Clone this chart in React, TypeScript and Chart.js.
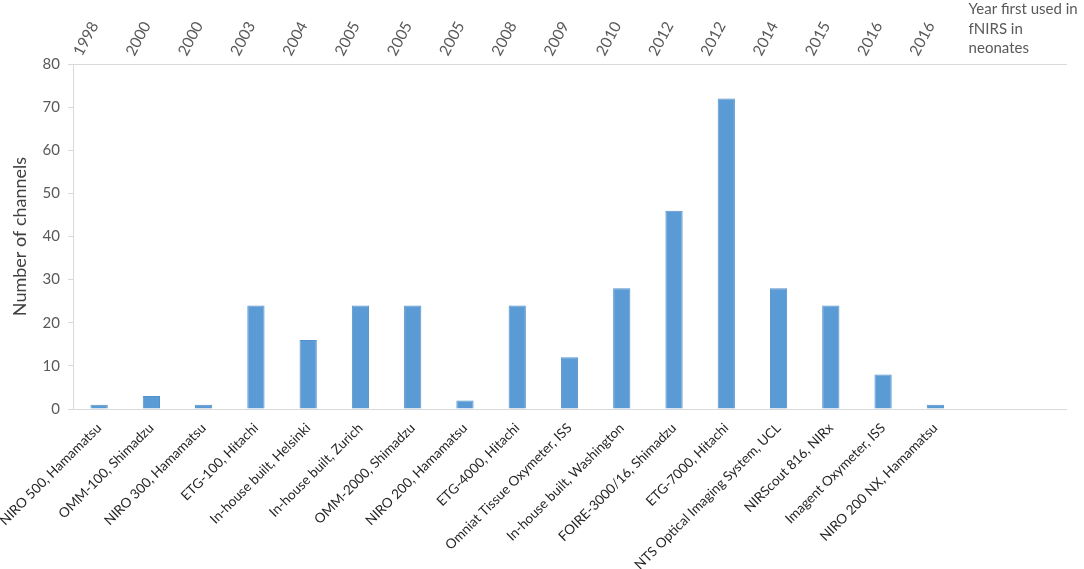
import React, { useEffect, useRef } from 'react';
import { Chart, registerables } from 'chart.js';

Chart.register(...registerables);

const devices = [
  'NIRO 500, Hamamatsu',
  'OMM-100, Shimadzu',
  'NIRO 300, Hamamatsu',
  'ETG-100, Hitachi',
  'In-house built, Helsinki',
  'In-house built, Zurich',
  'OMM-2000, Shimadzu',
  'NIRO 200, Hamamatsu',
  'ETG-4000, Hitachi',
  'Omniat Tissue Oxymeter, ISS',
  'In-house built, Washington',
  'FOIRE-3000/16, Shimadzu',
  'ETG-7000, Hitachi',
  'NTS Optical Imaging System, UCL',
  'NIRScout 816, NIRx',
  'Imagent Oxymeter, ISS',
  'NIRO 200 NX, Hamamatsu',
  '',
  '',
];

const years = [
  '1998', '2000', '2000', '2003', '2004', '2005', '2005', '2005', '2008',
  '2009', '2010', '2012', '2012', '2014', '2015', '2016', '2016', '', '',
];

const channels = [1, 3, 1, 24, 16, 24, 24, 2, 24, 12, 28, 46, 72, 28, 24, 8, 1, null, null];

const yearAxisNote = ['Year first used in', 'fNIRS in', 'neonates'];
const yAxisTitle = 'Number of channels';
const yMin = 0;
const yMax = 80;
const yStep = 10;

const FONT = 'Lato';

const notePlugin = {
  id: 'yearNote',
  afterDraw(chart: any) {
    const s = chart.scales.x2;
    const ctx = chart.ctx;
    const x = s.getPixelForTick(17) - 19;
    ctx.save();
    ctx.font = `15px ${FONT}`;
    ctx.fillStyle = '#595959';
    ctx.textAlign = 'left';
    ctx.textBaseline = 'alphabetic';
    yearAxisNote.forEach((t, i) => {
      ctx.fillText(t, x, s.bottom - 50 + i * 19.5);
    });
    ctx.restore();
  },
};

export default function App() {
  const ref = useRef<HTMLCanvasElement | null>(null);

  useEffect(() => {
    document.body.style.margin = '0';
    const canvas = ref.current;
    if (!canvas) return;
    const chart = new Chart(canvas, {
      type: 'bar',
      data: {
        labels: devices,
        datasets: [
          {
            data: channels as any,
            backgroundColor: '#5b9bd5',
            borderColor: '#5590c8',
            borderWidth: 1,
            barPercentage: 0.33,
            categoryPercentage: 1,
            xAxisID: 'x',
            yAxisID: 'y',
          },
        ],
      },
      options: {
        responsive: false,
        animation: false,
        layout: { padding: { left: 0, right: 18, top: 0, bottom: 0 } },
        plugins: {
          legend: { display: false },
          tooltip: { enabled: false },
        },
        scales: {
          x: {
            type: 'category',
            position: 'bottom',
            offset: true,
            grid: { display: false, drawTicks: false },
            border: { display: true, color: '#d9d9d9', width: 1 },
            ticks: {
              autoSkip: false,
              minRotation: 45,
              maxRotation: 45,
              padding: 11,
              labelOffset: 0,
              color: '#262626',
              font: { family: FONT, size: 13.5 },
            },
            afterFit: (scale: any) => {
              scale.height = 160;
              scale.paddingLeft = 0;
              scale.paddingRight = 0;
            },
          },
          x2: {
            type: 'category',
            position: 'top',
            labels: years,
            offset: true,
            grid: { display: false, drawTicks: false },
            border: { display: true, color: '#d9d9d9', width: 1 },
            ticks: {
              autoSkip: false,
              minRotation: 62,
              maxRotation: 62,
              padding: 5,
              labelOffset: -5,
              color: '#595959',
              font: { family: FONT, size: 15.5 },
            },
            afterFit: (scale: any) => {
              scale.height = 64;
              scale.paddingLeft = 0;
              scale.paddingRight = 0;
            },
          },
          y: {
            type: 'linear',
            position: 'left',
            min: yMin,
            max: yMax,
            ticks: {
              stepSize: yStep,
              padding: 8,
              color: '#595959',
              font: { family: FONT, size: 15 },
            },
            grid: {
              display: true,
              drawOnChartArea: false,
              drawTicks: true,
              tickLength: 5,
              color: '#d9d9d9',
            },
            border: { display: true, color: '#d9d9d9', width: 1 },
            title: {
              display: true,
              text: yAxisTitle,
              color: '#404040',
              font: { family: FONT, size: 18 },
              padding: { top: 9, bottom: 0 },
            },
            afterFit: (scale: any) => {
              scale.width = 73;
            },
          },
        },
      },
      plugins: [notePlugin],
    });
    return () => chart.destroy();
  }, []);

  return (
    <div style={{ position: 'fixed', left: 0, top: 0, width: 1084, height: 569 }}>
      <canvas ref={ref} width={1084} height={569} style={{ display: 'block' }} />
    </div>
  );
}
